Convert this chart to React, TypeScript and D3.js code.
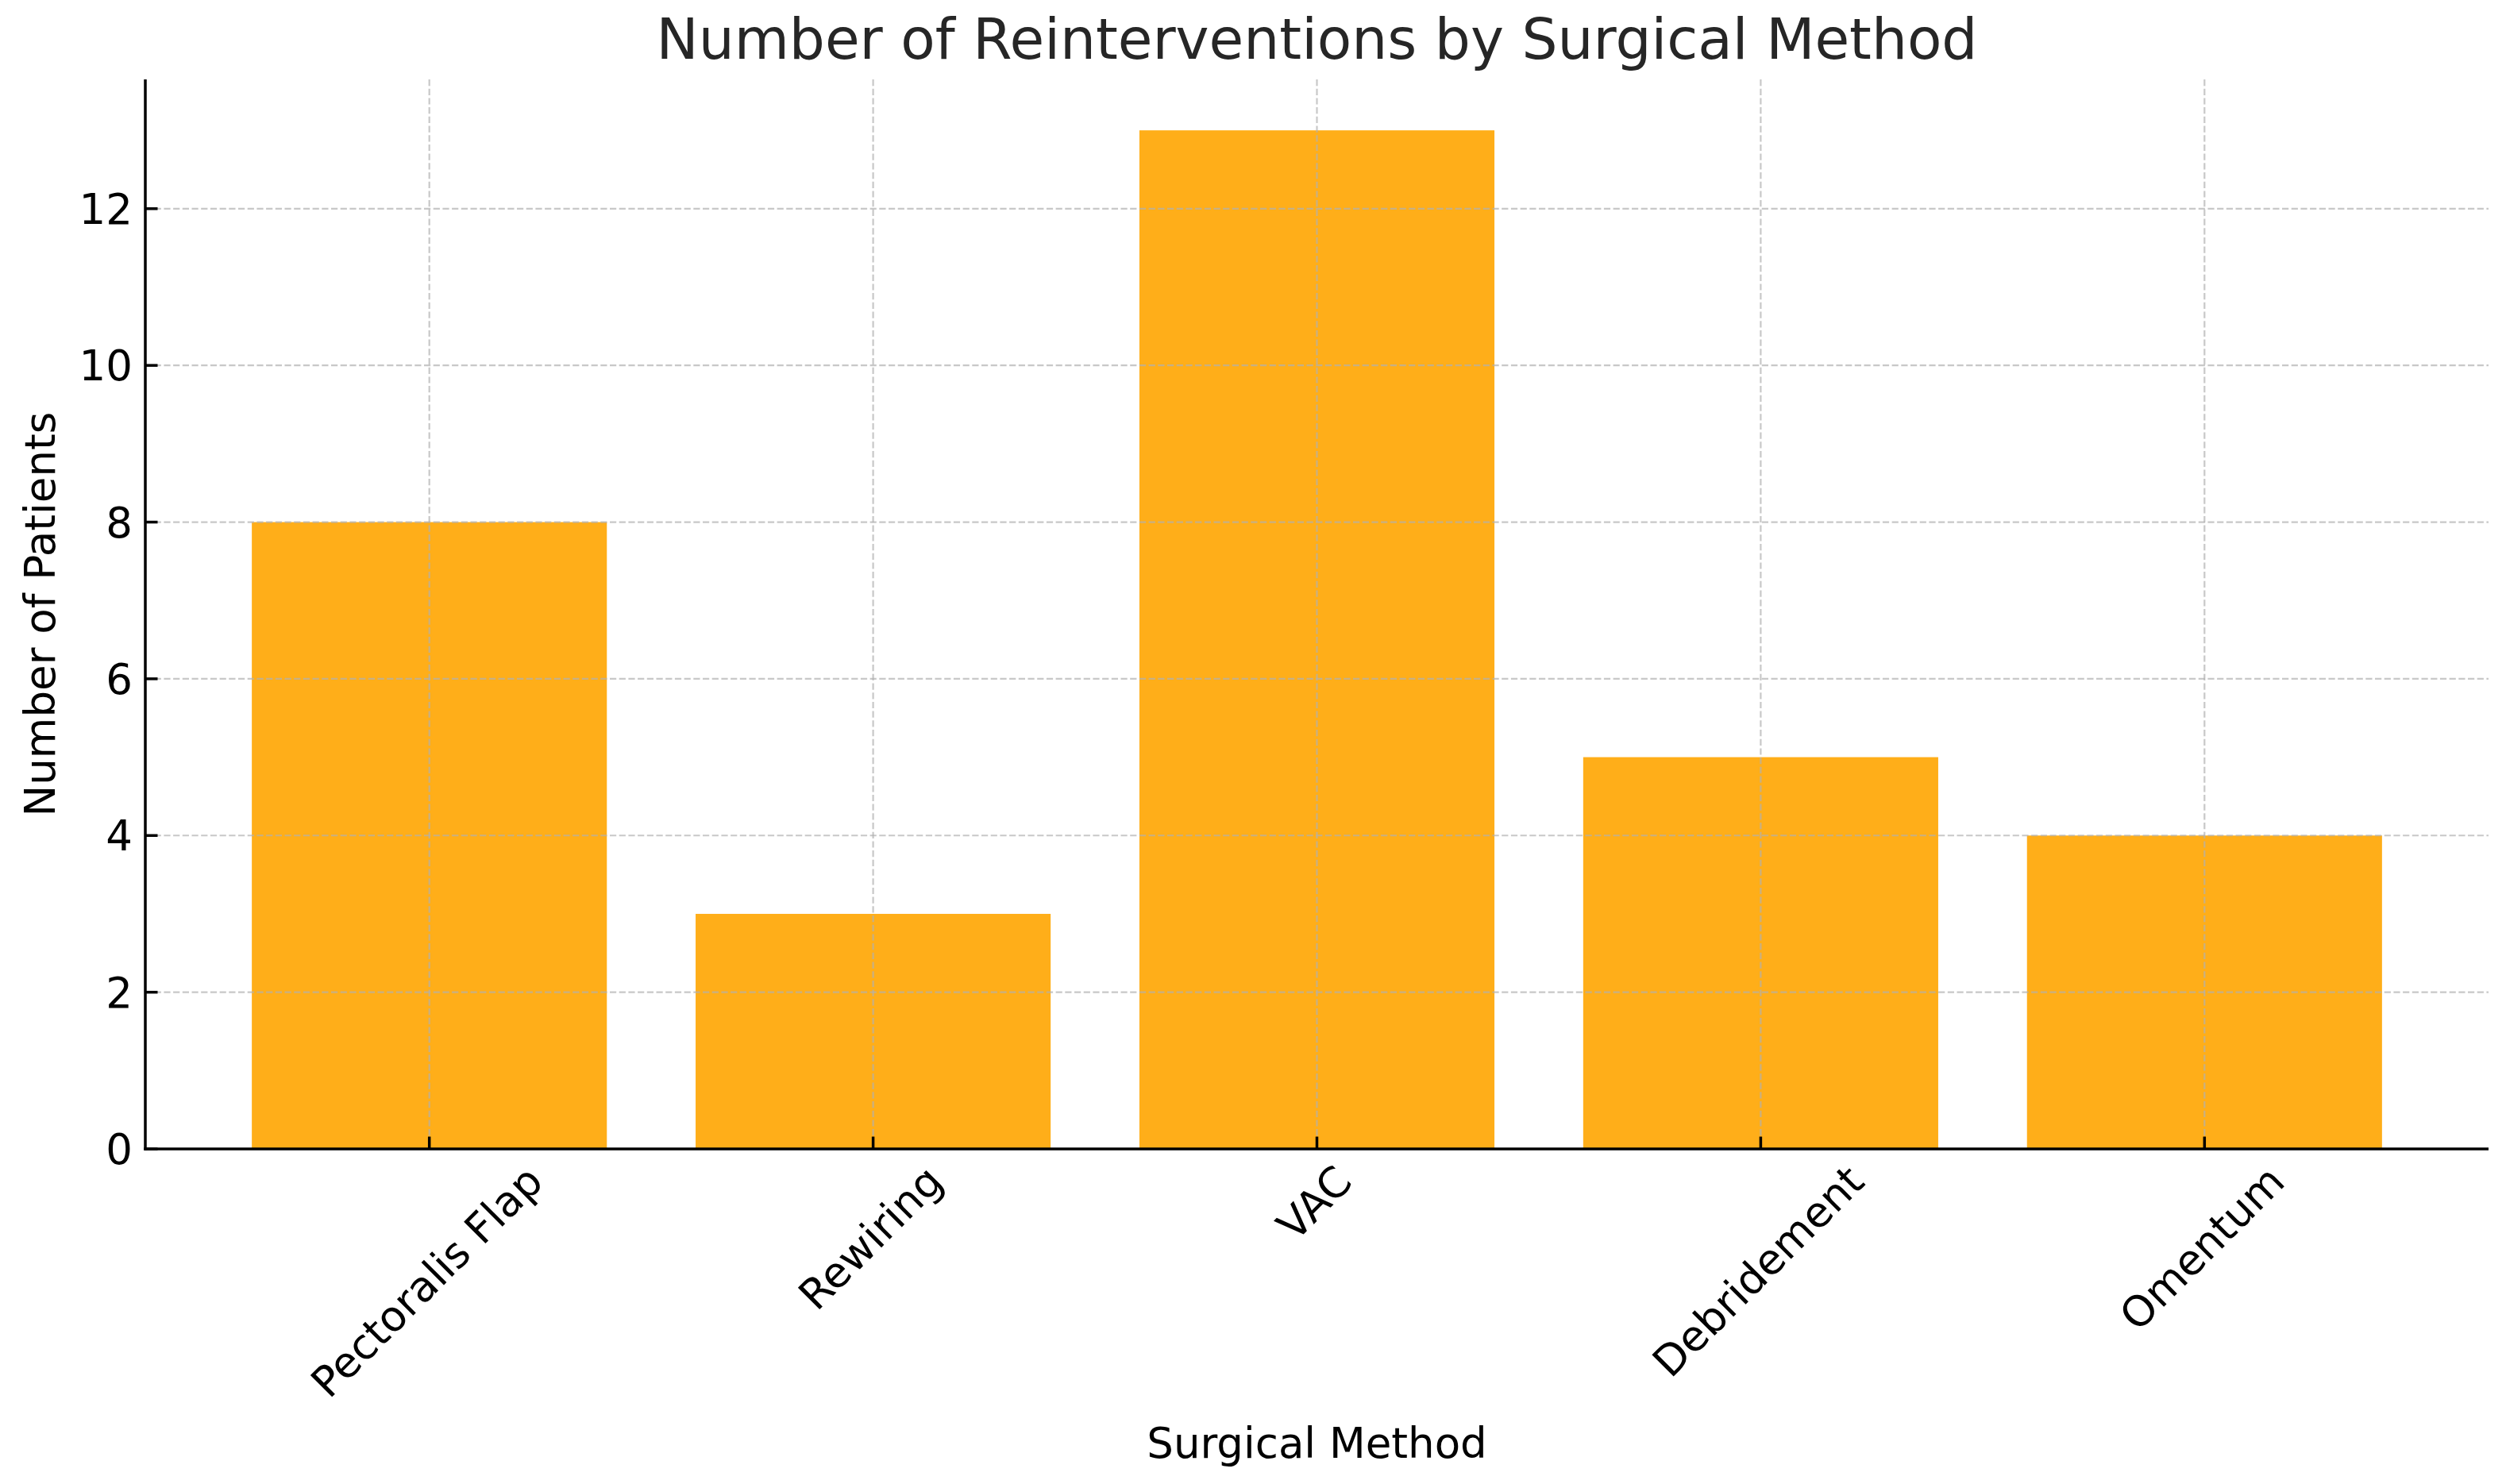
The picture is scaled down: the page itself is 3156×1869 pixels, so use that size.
import React, { useEffect, useRef } from "react";
import * as d3 from "d3";

const categories: string[] = ["Pectoralis Flap", "Rewiring", "VAC", "Debridement", "Omentum"];
const patients: number[] = [8, 3, 13, 5, 4];
const yTicks: number[] = [0, 2, 4, 6, 8, 10, 12];
const titleText = "Number of Reinterventions by Surgical Method";
const xLabelText = "Surgical Method";
const yLabelText = "Number of Patients";

const W = 3156;
const H = 1869;
const FONT = "'DejaVu Sans', sans-serif";

export default function App() {
  const ref = useRef<SVGSVGElement | null>(null);

  useEffect(() => {
    const svg = d3.select(ref.current);
    svg.selectAll("*").remove();

    const left = 183, right = 3134, top = 100, bottom = 1447;
    const x = d3.scaleBand<string>().domain(categories).range([left, right]).paddingInner(0.2).paddingOuter(0.24);
    const y = d3.scaleLinear().domain([0, 13.65]).range([bottom, top]);

    svg.append("rect").attr("x", 0).attr("y", 0).attr("width", W).attr("height", H).attr("fill", "#ffffff");

    // bars
    svg.append("g").selectAll("rect").data(categories).join("rect")
      .attr("x", (d) => x(d)!)
      .attr("width", x.bandwidth())
      .attr("y", (d, i) => y(patients[i]))
      .attr("height", (d, i) => y(0) - y(patients[i]))
      .attr("fill", "#FFA500")
      .attr("fill-opacity", 0.9);

    // grid
    const grid = svg.append("g").attr("stroke", "#b0b0b0").attr("stroke-opacity", 0.7)
      .attr("stroke-width", 2.2).attr("stroke-dasharray", "8.2 3.5");
    grid.selectAll("line.h").data(yTicks).join("line").attr("class", "h")
      .attr("x1", left).attr("x2", right).attr("y1", (d) => y(d)).attr("y2", (d) => y(d));
    grid.selectAll("line.v").data(categories).join("line").attr("class", "v")
      .attr("x1", (d) => x(d)! + x.bandwidth() / 2).attr("x2", (d) => x(d)! + x.bandwidth() / 2)
      .attr("y1", top).attr("y2", bottom);

    // spines
    svg.append("line").attr("x1", left).attr("x2", left).attr("y1", top).attr("y2", bottom + 1.75)
      .attr("stroke", "#000").attr("stroke-width", 3.5);
    svg.append("line").attr("x1", left - 1.75).attr("x2", right).attr("y1", bottom).attr("y2", bottom)
      .attr("stroke", "#000").attr("stroke-width", 3.5);

    // y ticks
    const tickG = svg.append("g");
    tickG.selectAll("line.yt").data(yTicks).join("line").attr("class", "yt")
      .attr("x1", left).attr("x2", left + 15.5).attr("y1", (d) => y(d)).attr("y2", (d) => y(d))
      .attr("stroke", "#000").attr("stroke-width", 3.5);
    tickG.selectAll("text.yl").data(yTicks).join("text").attr("class", "yl")
      .attr("x", left - 16).attr("y", (d) => y(d)).attr("dy", "0.36em")
      .attr("text-anchor", "end").attr("font-family", FONT).attr("font-size", 53).attr("fill", "#000")
      .text((d) => String(d));

    // x ticks
    tickG.selectAll("line.xt").data(categories).join("line").attr("class", "xt")
      .attr("x1", (d) => x(d)! + x.bandwidth() / 2).attr("x2", (d) => x(d)! + x.bandwidth() / 2)
      .attr("y1", bottom).attr("y2", bottom - 15.5)
      .attr("stroke", "#000").attr("stroke-width", 3.5);

    const fs = 53;
    const xl = tickG.selectAll("text.xl").data(categories).join("text").attr("class", "xl")
      .attr("text-anchor", "middle").attr("font-family", FONT).attr("font-size", fs).attr("fill", "#000")
      .attr("x", 0).attr("y", 0).attr("dy", 0.261 * fs)
      .text((d) => d);
    xl.each(function (d) {
      const el = this as SVGTextElement;
      const L = el.getComputedTextLength();
      const h = 0.998 * fs;
      const cx = x(d)! + x.bandwidth() / 2;
      const cy = bottom + 15.5 + (L + h) / (2 * Math.SQRT2);
      d3.select(el).attr("transform", `translate(${cx},${cy}) rotate(-45)`);
    });

    // labels
    svg.append("text").attr("x", (left + right) / 2).attr("y", 1836).attr("text-anchor", "middle")
      .attr("font-family", FONT).attr("font-size", 53).attr("fill", "#000").text(xLabelText);
    svg.append("text").attr("transform", `translate(69,${(top + bottom) / 2}) rotate(-90)`)
      .attr("text-anchor", "middle").attr("font-family", FONT).attr("font-size", 53).attr("fill", "#000")
      .text(yLabelText);
    svg.append("text").attr("x", (left + right) / 2).attr("y", 73.5).attr("text-anchor", "middle")
      .attr("font-family", FONT).attr("font-size", 71).attr("fill", "#262626").text(titleText);
  }, []);

  return (
    <svg ref={ref} width={W} height={H} style={{ position: "absolute", left: 0, top: 0, display: "block" }} />
  );
}
